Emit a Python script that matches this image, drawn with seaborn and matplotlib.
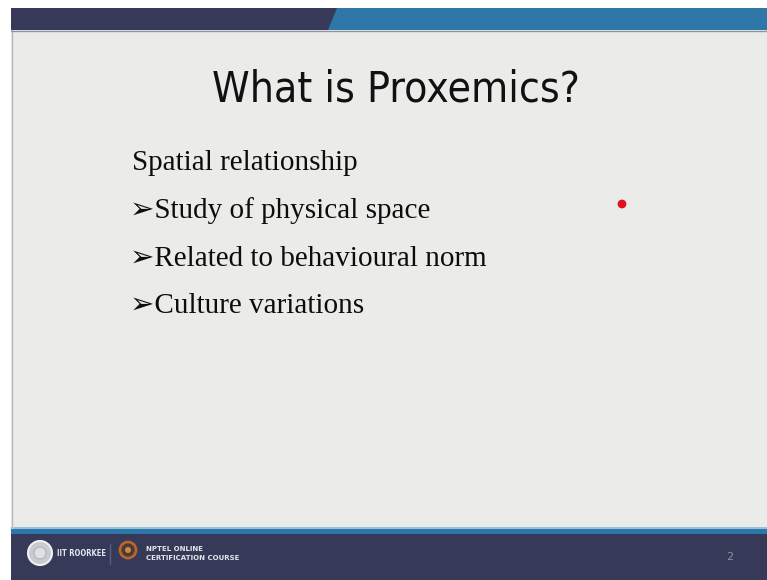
import matplotlib
matplotlib.use("Agg")
import matplotlib.pyplot as plt
import seaborn as sns
from matplotlib import font_manager
from matplotlib.patches import Rectangle, Polygon, Circle

# slide content
title = "What is Proxemics?"
heading = "Spatial relationship"
bullets = ["Study of physical space", "Related to behavioural norm", "Culture variations"]
footer_left = "IIT ROORKEE"
footer_mid = ["NPTEL ONLINE", "CERTIFICATION COURSE"]
page_no = "2"
pointer_x = [622]
pointer_y = [204]

navy = "#363957"
blue = "#2f77a9"
slide_bg = "#ebecea"

sns.set_theme(style="white")

names = {f.name for f in font_manager.fontManager.ttflist}
condensed = any(f.name == "DejaVu Sans" and f.stretch == "condensed"
                for f in font_manager.fontManager.ttflist)
if "Liberation Sans Narrow" in names:
    title_kw = dict(family="Liberation Sans Narrow")
elif condensed:
    title_kw = dict(family="DejaVu Sans", stretch="condensed")
else:
    title_kw = dict(family="Open Sans")

fig = plt.figure(figsize=(7.67, 5.8), dpi=100)
fig.patch.set_facecolor("white")
ax = fig.add_axes([0, 0, 1, 1])
ax.set_xlim(0, 767)
ax.set_ylim(580, 0)
ax.axis("off")

# slide body
ax.add_patch(Rectangle((11, 8), 756, 572, fc=slide_bg, ec="none"))
ax.plot([11.5, 11.5], [30, 528], color="#b8bab8", lw=1)

# top bar
ax.add_patch(Rectangle((11, 8), 756, 22, fc=navy, ec="none"))
ax.add_patch(Polygon([(337, 8), (767, 8), (767, 30), (328, 30)], fc=blue, ec="none"))
ax.plot([11, 767], [30.5, 30.5], color="#8f93a0", lw=1)

# footer
ax.add_patch(Rectangle((11, 527), 756, 53, fc=navy, ec="none"))
ax.add_patch(Rectangle((11, 527), 756, 7, fc=blue, ec="none"))
ax.plot([11, 767], [527.5, 527.5], color="#a9d3ee", lw=1.2)

# title, fitted to its width on the slide
t = ax.text(396, 101, title, ha="center", va="baseline", fontsize=34,
            color="#111111", **title_kw)
fig.canvas.draw()
w = t.get_window_extent().width
t.set_fontsize(34 * 368 / w)

# bullet text
body_font = ["Liberation Serif", "DejaVu Sans"]
ax.text(132, 170, heading, fontsize=21, family=body_font, color="#0d0d0d",
        va="baseline")
for i, b in enumerate(bullets):
    ax.text(130, 218 + i * 47.5, "\u27a2" + b, fontsize=21, family=body_font,
            color="#0d0d0d", va="baseline")

# laser pointer dot
sns.scatterplot(x=pointer_x, y=pointer_y, ax=ax, s=40, color="#e0101e",
                edgecolor="none", legend=False)

# footer logos and text
ax.add_patch(Circle((40, 553), 12, fc="#c9cbcf", ec="#eef0f2", lw=1.5))
ax.add_patch(Circle((40, 553), 6, fc="#dfe1e4", ec="#aeb1b6", lw=0.8))
ax.text(57, 554, footer_left, fontsize=5.5, fontweight="bold",
        color="#e4e6ee", va="center", family="DejaVu Sans", stretch="condensed")
ax.plot([110, 110], [544, 564], color="#5a5e7c", lw=1)
ax.add_patch(Circle((128, 550), 8, fc="#4a3a3a", ec="#b8662a", lw=2))
ax.add_patch(Circle((128, 550), 3, fc="#d08a3a", ec="none"))
ax.text(146, 549, footer_mid[0], fontsize=5, fontweight="bold",
        color="#e4e6ee", va="center")
ax.text(146, 558, footer_mid[1], fontsize=5, fontweight="bold",
        color="#e4e6ee", va="center")
ax.text(730, 557, page_no, fontsize=8, color="#8e92a6", ha="center",
        va="center")

fig.savefig("out.png", dpi=100, facecolor=fig.get_facecolor())
